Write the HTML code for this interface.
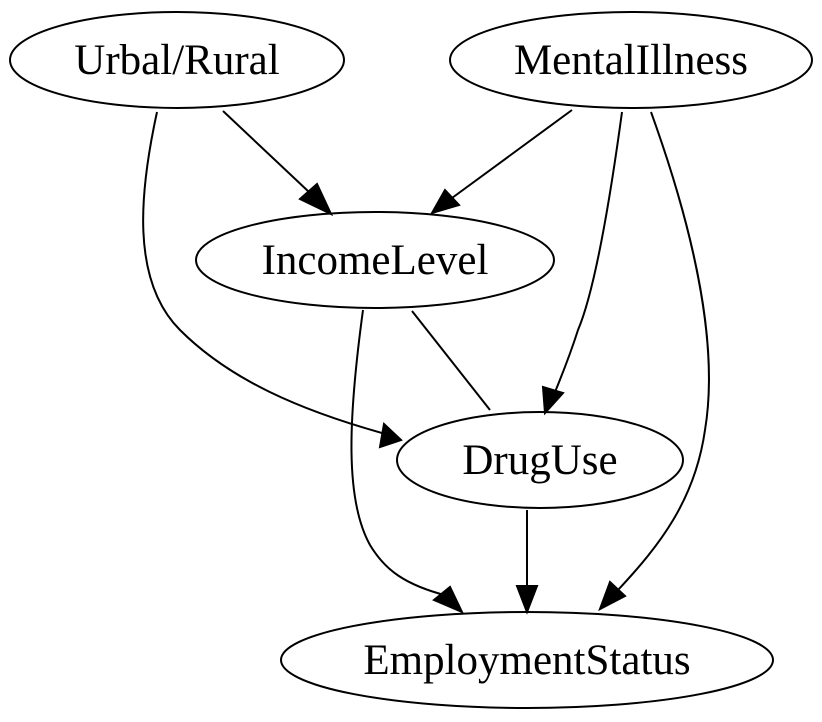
<!DOCTYPE html>
<html><head><meta charset="utf-8"><style>
html,body{margin:0;padding:0;background:#fff;}
svg{display:block;}
text{font-family:"Liberation Serif",serif;font-size:43px;fill:#000;}
</style></head><body>
<svg width="822" height="722" viewBox="0 0 822 722" xmlns="http://www.w3.org/2000/svg">
<g fill="none" stroke="#000" stroke-width="2">
<ellipse cx="177" cy="60" rx="167" ry="48"/>
<ellipse cx="631" cy="60" rx="181" ry="48"/>
<ellipse cx="375" cy="260" rx="179" ry="48"/>
<ellipse cx="540" cy="460" rx="143" ry="48"/>
<ellipse cx="527" cy="660" rx="246" ry="48"/>
<path d="M223,111 L309,192"/>
<path d="M157,112 C140,190 130,280 180,330 C230,380 300,410 382,433"/>
<path d="M572,110 L452,198"/>
<path d="M622,112 C610,200 595,290 578,330 C570,355 562,375 555,392"/>
<path d="M651,112 C690,220 720,340 705,430 C695,500 660,545 618,590"/>
<path d="M412,311 L490,410"/>
<path d="M363,310 C348,420 345,500 370,545 C385,570 405,585 448,596"/>
<path d="M527,510 L527,588"/>
</g>
<g fill="#000" stroke="#000" stroke-width="2">
<polygon points="331,214 300,199 317,184"/>
<polygon points="401,440 380,447 384,424"/>
<polygon points="432,213 445,190 459,205"/>
<polygon points="545,413 543,387 563,393"/>
<polygon points="600,609 610,582 625,596"/>
<polygon points="462,612 434,600 450,587"/>
<polygon points="527,612 517,586 537,586"/>
</g>
<text x="177" y="74" text-anchor="middle">Urbal/Rural</text>
<text x="631" y="74" text-anchor="middle">MentalIllness</text>
<text x="375" y="274" text-anchor="middle">IncomeLevel</text>
<text x="540" y="474" text-anchor="middle">DrugUse</text>
<text x="527" y="674" text-anchor="middle">EmploymentStatus</text>
</svg>
</body></html>
